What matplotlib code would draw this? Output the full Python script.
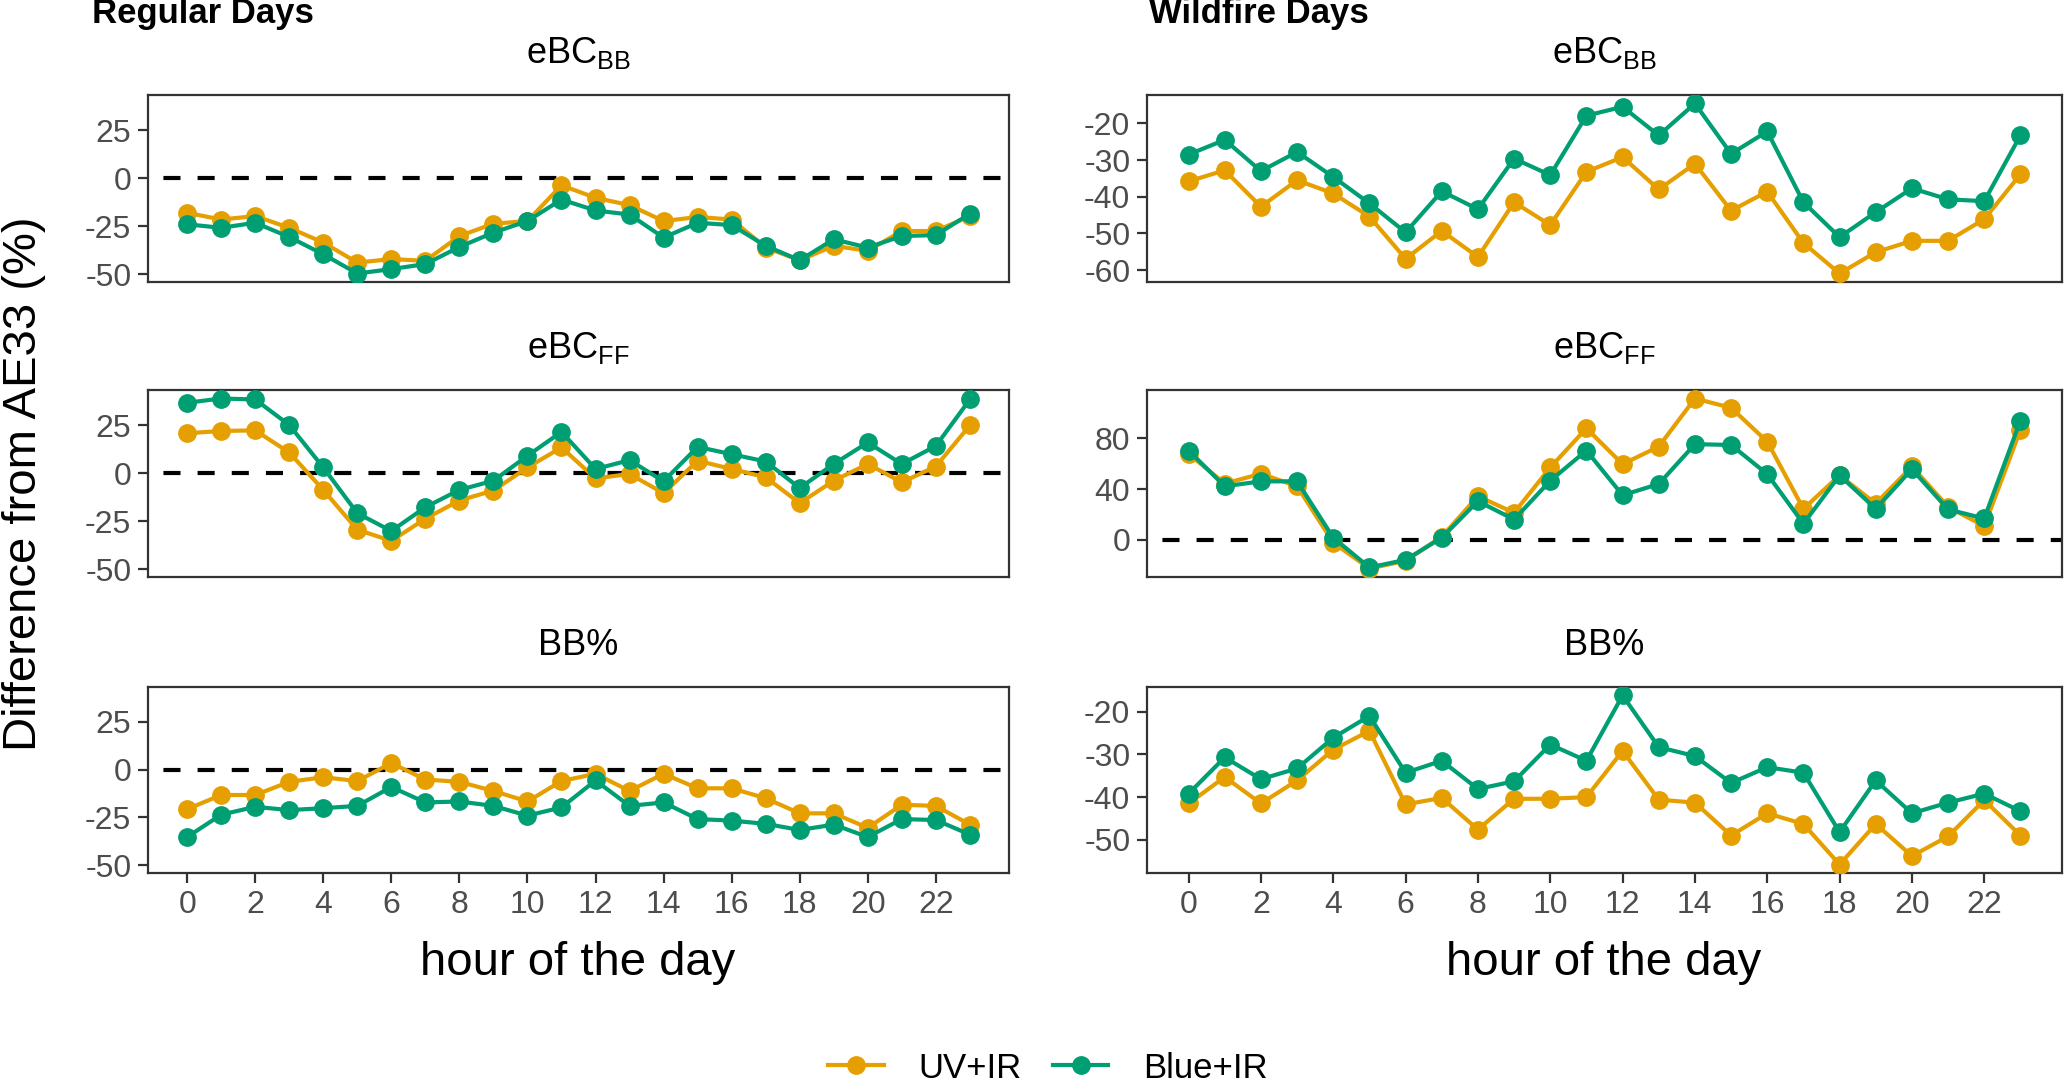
import matplotlib
matplotlib.use("Agg")
import matplotlib.pyplot as plt
import numpy as np

plt.rcParams['font.family'] = ['Liberation Sans', 'DejaVu Sans']
plt.rcParams['mathtext.default'] = 'regular'
plt.rcParams['axes.unicode_minus'] = False

hours = np.arange(24)

# regular days
reg_bb_uv = [-18.1, -21.6, -19.8, -25.9, -33.6, -44.0, -42.2, -43.1, -30.2, -23.8, -22.4, -3.8,
             -10.3, -14.1, -22.4, -20.3, -21.6, -36.2, -42.8, -35.3, -37.9, -27.6, -27.6, -19.8]
reg_bb_blue = [-24.1, -25.9, -23.3, -30.7, -39.7, -49.7, -47.4, -44.8, -35.9, -28.4, -22.4, -11.2,
               -16.9, -19.0, -31.0, -23.3, -24.5, -35.3, -42.8, -31.9, -36.2, -30.2, -29.7, -18.6]
reg_ff_uv = [20.7, 21.9, 22.2, 10.7, -8.8, -29.5, -35.3, -23.8, -14.3, -9.1, 2.9, 13.3,
             -2.8, -0.5, -10.5, 6.4, 2.1, -2.2, -15.7, -4.0, 4.7, -4.8, 3.4, 24.8]
reg_ff_blue = [36.6, 38.8, 38.3, 25.0, 2.9, -20.9, -30.2, -17.8, -8.8, -4.0, 9.0, 21.4,
               2.1, 6.7, -4.3, 13.6, 9.8, 6.0, -7.8, 4.7, 15.9, 4.7, 14.1, 38.3]
reg_pct_uv = [-20.7, -13.3, -13.3, -6.4, -4.0, -6.0, 3.4, -5.2, -6.4, -11.2, -16.7, -6.0,
              -2.2, -11.2, -2.2, -9.8, -9.8, -15.0, -22.9, -22.9, -30.5, -18.4, -19.0, -28.8]
reg_pct_blue = [-35.3, -23.6, -19.5, -21.2, -20.2, -19.0, -9.1, -17.2, -16.7, -19.0, -24.1, -19.8,
                -5.7, -19.0, -17.2, -25.9, -26.7, -28.4, -31.6, -28.8, -35.3, -25.9, -26.4, -34.0]

# wildfire days
wf_bb_uv = [-35.8, -32.8, -42.7, -35.5, -39.1, -45.4, -56.9, -49.3, -56.4, -41.5, -47.7, -33.2,
            -29.2, -38.0, -31.0, -43.8, -38.6, -52.6, -60.9, -55.1, -52.0, -52.0, -46.1, -33.9]
wf_bb_blue = [-28.5, -24.5, -33.0, -27.8, -34.6, -41.8, -49.7, -38.5, -43.4, -29.6, -34.1, -17.9,
              -15.5, -23.3, -14.6, -28.3, -22.2, -41.5, -51.0, -44.2, -37.7, -40.7, -41.2, -23.3]
wf_ff_uv = [67.7, 44.3, 52.1, 42.2, -2.1, -22.4, -16.4, 2.6, 34.4, 21.4, 57.0, 87.8,
            59.6, 73.4, 111.2, 103.9, 77.3, 24.5, 50.8, 28.6, 57.8, 26.0, 10.9, 86.5]
wf_ff_blue = [70.3, 42.2, 46.1, 46.1, 1.8, -21.6, -15.6, 1.8, 30.5, 16.1, 46.6, 70.3,
              35.2, 44.0, 75.3, 74.7, 51.8, 12.8, 50.8, 24.5, 55.7, 24.0, 16.9, 93.8]
wf_pct_uv = [-41.5, -35.3, -41.5, -36.1, -28.9, -24.5, -41.7, -40.2, -47.6, -40.4, -40.4, -40.0,
             -29.2, -40.6, -41.3, -49.0, -43.8, -46.3, -55.8, -46.3, -53.8, -49.2, -40.7, -49.0]
wf_pct_blue = [-39.2, -30.7, -35.8, -33.3, -26.1, -21.0, -34.3, -31.5, -38.1, -36.3, -27.7, -31.5,
               -16.2, -28.3, -30.4, -36.7, -33.0, -34.3, -48.2, -36.1, -43.8, -41.3, -39.2, -43.3]

titles = ["eBC$_{BB}$", "eBC$_{FF}$", "BB%"]
series_names = ["UV+IR", "Blue+IR"]
colors = ["#E69F00", "#009E73"]

reg = [(reg_bb_uv, reg_bb_blue), (reg_ff_uv, reg_ff_blue), (reg_pct_uv, reg_pct_blue)]
wf = [(wf_bb_uv, wf_bb_blue), (wf_ff_uv, wf_ff_blue), (wf_pct_uv, wf_pct_blue)]

reg_ticks = [-50, -25, 0, 25]
wf_ticks = [[-60, -50, -40, -30, -20], [0, 40, 80], [-50, -40, -30, -20]]

W, H = 2067, 1086
fig = plt.figure(figsize=(W / 100, H / 100), dpi=100)

cols = [(148, 1009), (1147, 2062)]
rows = [(95, 282), (390, 577), (687, 873)]


def limits(vals):
    lo, hi = min(vals), max(vals)
    pad = 0.05 * (hi - lo)
    return lo - pad, hi + pad


reg_all = [v for pair in reg for s in pair for v in s]
reg_lim = limits(reg_all)

axes = []
for c, (x0, x1) in enumerate(cols):
    for r, (y0, y1) in enumerate(rows):
        ax = fig.add_axes([x0 / W, 1 - y1 / H, (x1 - x0) / W, (y1 - y0) / H])
        data = reg[r] if c == 0 else wf[r]
        ax.axhline(0, color="black", lw=3.0, ls=(4.5, (4.1, 4.1)), zorder=1)
        for s, col, name in zip(data, colors, series_names):
            ax.plot(hours, s, color=col, lw=3.0, marker="o", ms=12.5, label=name, zorder=3)
        ax.set_xlim(-1.15, 24.15)
        if c == 0:
            ax.set_ylim(*reg_lim)
            ax.set_yticks(reg_ticks)
        else:
            ax.set_ylim(*limits(list(data[0]) + list(data[1])))
            ax.set_yticks(wf_ticks[r])
        ax.set_xticks(range(0, 24, 2))
        for sp in ax.spines.values():
            sp.set_color("#333333")
            sp.set_linewidth(1.6)
        ax.tick_params(axis="both", length=7, width=1.6, color="#333333",
                       labelcolor="#4D4D4D", labelsize=23, pad=5)
        if r < 2:
            ax.tick_params(axis="x", bottom=False, labelbottom=False)
        ax.annotate(titles[r], xy=(0.5, 1), xycoords="axes fraction", xytext=(0, 30),
                    textcoords="offset points", ha="center", va="center", fontsize=26)
        axes.append(ax)

fig.text(92 / W, 1 - 13 / H, "Regular Days", fontsize=25, fontweight="bold", va="center", ha="left")
fig.text(1149 / W, 1 - 13 / H, "Wildfire Days", fontsize=25, fontweight="bold", va="center", ha="left")

fig.text(578 / W, 1 - 963 / H, "hour of the day", fontsize=34, ha="center", va="center")
fig.text(1604 / W, 1 - 963 / H, "hour of the day", fontsize=34, ha="center", va="center")
fig.text(24 / W, 1 - 484 / H, "Difference from AE33 (%)", fontsize=34, rotation=90,
         ha="center", va="center")

handles, labels = axes[0].get_legend_handles_labels()
fig.legend(handles, labels, loc="center", bbox_to_anchor=(1048 / W, 1 - 1068 / H), ncol=2,
           frameon=False, fontsize=25, handlelength=1.6, handletextpad=1.0, columnspacing=0.9)

fig.savefig("out.png", dpi=100)
